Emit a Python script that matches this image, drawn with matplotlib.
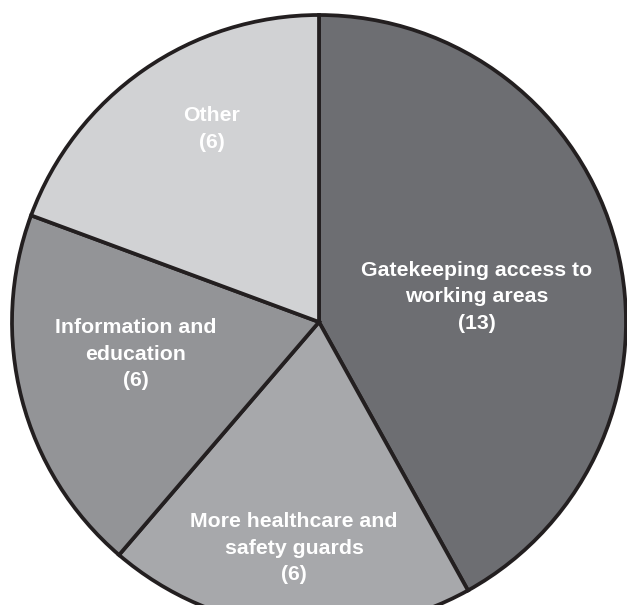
import matplotlib
matplotlib.use("Agg")
import matplotlib.pyplot as plt

# -------------------------------------------------------------
# Data
# -------------------------------------------------------------
categories = ["Gatekeeping access to\nworking areas",
              "More healthcare and\nsafety guards",
              "Information and\neducation",
              "Other"]
counts = [13, 6, 6, 6]
colors = ["#6d6e72", "#a7a8ab", "#939497", "#d1d2d4"]

# label centres, pixel coords (x from left, y from top)
label_pos = [(477, 297), (294, 548), (136, 354), (212, 129)]

W, H = 627, 605
plt.rcParams['font.family'] = ['Liberation Sans', 'DejaVu Sans']

fig = plt.figure(figsize=(W / 100, H / 100), dpi=100)
ax = fig.add_axes([0, 0, 1, 1])

cx, cy, r = 319, H - 322, 307
ax.pie(counts, colors=colors, startangle=90, counterclock=False,
       center=(cx, cy), radius=r, frame=True,
       wedgeprops=dict(edgecolor="#231f20", linewidth=2.7))
ax.set_xlim(0, W)
ax.set_ylim(0, H)
ax.set_aspect('equal')
ax.axis('off')

for name, n, (px, py) in zip(categories, counts, label_pos):
    ax.text(px, H - py, f"{name}\n({n})", ha='center', va='center',
            color='white', fontsize=15.3, fontweight='bold', linespacing=1.48)

fig.savefig("out.png", dpi=100)
